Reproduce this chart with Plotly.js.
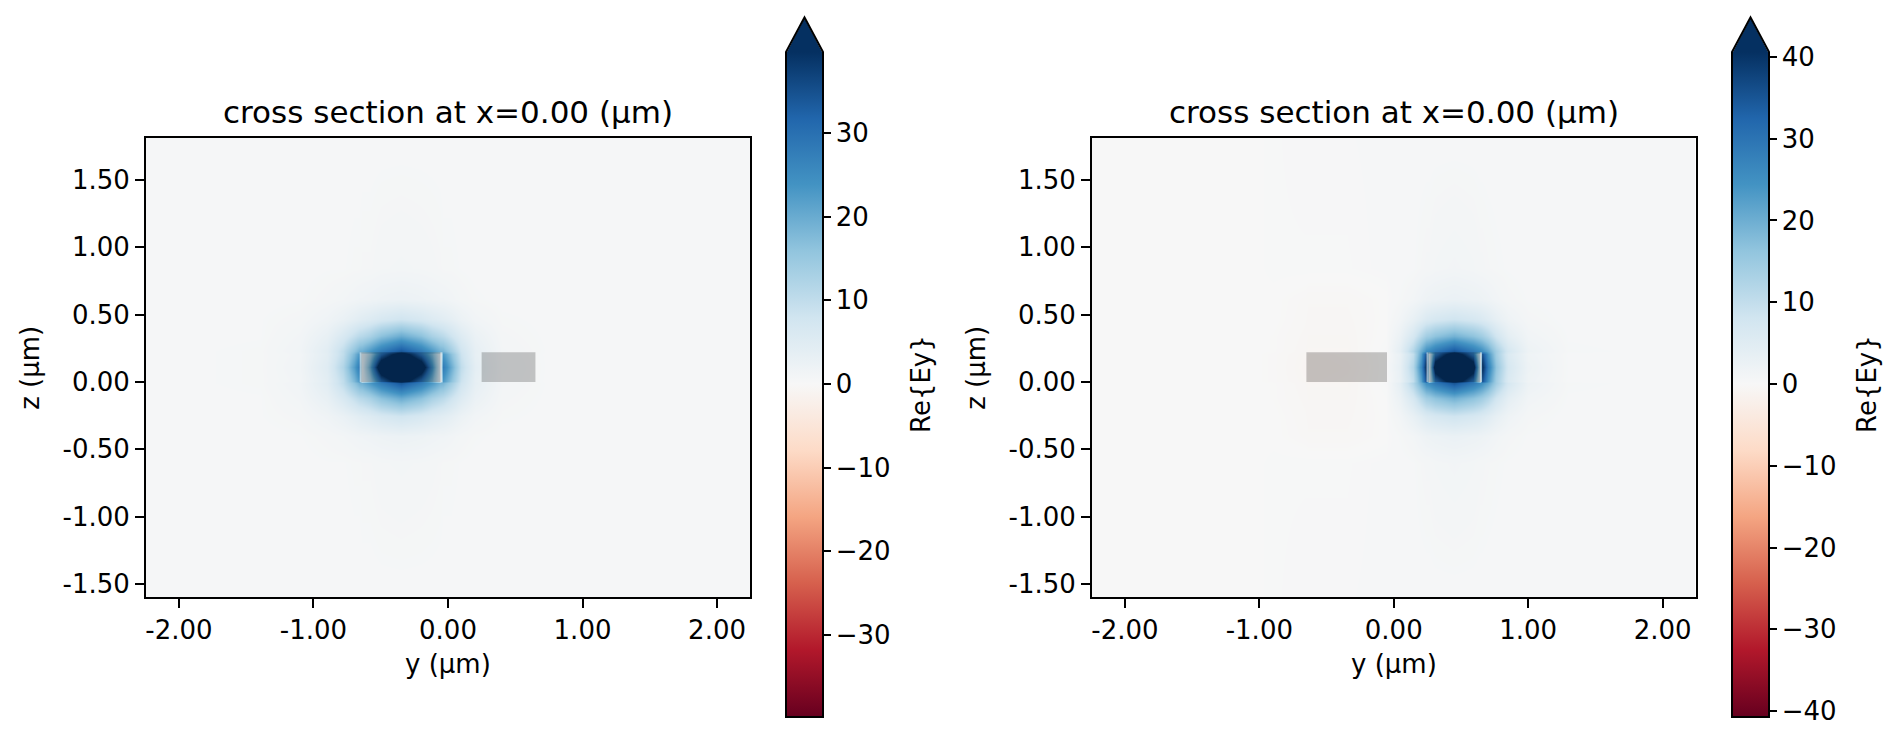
<!DOCTYPE html>
<html>
<head>
<meta charset="utf-8">
<script src="https://cdn.plot.ly/plotly-3.0.1.min.js"></script>
<style>html,body{margin:0;padding:0;background:#ffffff;}</style>
</head>
<body>
<div id="chart" style="width:1900px;height:748px;"></div>
<script>
// ---------------- data ----------------
const panelTitle = 'cross section at x=0.00 (μm)';
const xLabel = 'y (μm)';
const yLabel = 'z (μm)';
const cbLabel = 'Re{Ey}';

const xRange = [-2.245, 2.245];
const zRange = [-1.597, 1.812];
const xTickVals = [-2, -1, 0, 1, 2];
const xTickText = ['-2.00', '-1.00', '0.00', '1.00', '2.00'];
const yTickVals = [-1.5, -1, -0.5, 0, 0.5, 1, 1.5];
const yTickText = ['-1.50', '-1.00', '-0.50', '0.00', '0.50', '1.00', '1.50'];

const colorLimitLeft = 39.7;
const colorLimitRight = 40.6;

// waveguide cross sections (y from/to, z from/to)
const wgY0 = [-0.65, 0.25];
const wgY1 = [-0.05, 0.65];
const wgZ0 = [0.0, 0.0];
const wgZ1 = [0.22, 0.22];
const modeGuide = [0, 1]; // guide carrying the mode in left / right panel

// matplotlib RdBu
const rdbu = [
  [0.0, '#67001f'], [0.1, '#b2182b'], [0.2, '#d6604d'], [0.3, '#f4a582'],
  [0.4, '#fddbc7'], [0.5, '#f7f7f7'], [0.6, '#d1e5f0'], [0.7, '#92c5de'],
  [0.8, '#4393c3'], [0.9, '#2166ac'], [1.0, '#053061']
];

// field grid, left panel (mode on left guide)
const ysLeft = [-2.245, -1.4, -1.1, -0.9, -0.78, -0.7, -0.66, -0.64, -0.58, -0.5, -0.35, -0.2, -0.12, -0.06, -0.04, 0.02, 0.1, 0.2, 0.4, 0.8, 2.245];
const zsLeft = [-1.597, -0.6, -0.4, -0.25, -0.12, -0.01, 0.01, 0.11, 0.21, 0.23, 0.34, 0.47, 0.62, 0.85, 1.812];
const eyLeft = [
  [0.4, 0.4, 0.4, 0.4, 0.4, 0.4, 0.4, 0.4, 0.4, 0.4, 0.4, 0.4, 0.4, 0.4, 0.4, 0.4, 0.4, 0.4, 0.4, 0.4, 0.4],
  [0.4, 0.4, 0.4, 0.5, 0.5, 0.6, 0.6, 0.7, 0.7, 0.9, 1.0, 0.9, 0.8, 0.7, 0.6, 0.6, 0.5, 0.4, 0.4, 0.4, 0.4],
  [0.4, 0.4, 0.5, 0.8, 1.1, 1.4, 1.6, 1.6, 1.8, 2.1, 2.4, 2.1, 1.8, 1.6, 1.6, 1.3, 0.9, 0.6, 0.4, 0.4, 0.4],
  [0.4, 0.5, 0.8, 1.7, 2.8, 3.9, 4.5, 4.8, 5.5, 6.7, 8.0, 6.7, 5.5, 4.8, 4.5, 3.7, 2.4, 1.3, 0.6, 0.4, 0.4],
  [0.4, 0.5, 1.2, 3.2, 6.4, 9.4, 10.9, 11.3, 13.0, 16.5, 20.0, 16.5, 13.0, 11.3, 10.7, 8.3, 5.3, 2.6, 0.8, 0.4, 0.4],
  [0.4, 0.6, 1.5, 4.5, 10.0, 16.0, 19.0, 19.5, 23.0, 28.0, 34.0, 28.0, 23.0, 19.0, 18.5, 14.0, 8.0, 3.5, 1.0, 0.4, 0.4],
  [0.4, 0.6, 1.3, 4.3, 10.0, 18.0, 23.0, 5.0, 14.0, 31.0, 46.0, 30.0, 18.0, 5.0, 23.0, 16.5, 8.5, 3.4, 0.9, 0.4, 0.4],
  [0.4, 0.6, 1.5, 5.0, 12.0, 22.0, 28.0, 6.0, 21.0, 50.0, 62.0, 48.0, 25.0, 6.0, 28.0, 20.0, 10.0, 4.0, 1.0, 0.4, 0.4],
  [0.4, 0.6, 1.3, 4.3, 10.0, 18.0, 23.0, 5.0, 14.0, 31.0, 46.0, 30.0, 18.0, 5.0, 23.0, 16.5, 8.5, 3.4, 0.9, 0.4, 0.4],
  [0.4, 0.6, 1.5, 4.5, 10.0, 16.0, 19.0, 19.5, 23.0, 28.0, 34.0, 28.0, 23.0, 19.0, 18.5, 14.0, 8.0, 3.5, 1.0, 0.4, 0.4],
  [0.4, 0.5, 1.2, 3.2, 6.4, 9.4, 10.9, 11.3, 13.0, 16.5, 20.0, 16.5, 13.0, 11.3, 10.7, 8.3, 5.3, 2.6, 0.8, 0.4, 0.4],
  [0.4, 0.5, 0.8, 1.7, 2.8, 3.9, 4.5, 4.8, 5.5, 6.7, 8.0, 6.7, 5.5, 4.8, 4.5, 3.7, 2.4, 1.3, 0.6, 0.4, 0.4],
  [0.4, 0.4, 0.5, 0.8, 1.1, 1.4, 1.6, 1.6, 1.8, 2.1, 2.4, 2.1, 1.8, 1.6, 1.6, 1.3, 0.9, 0.6, 0.4, 0.4, 0.4],
  [0.4, 0.4, 0.4, 0.5, 0.5, 0.6, 0.6, 0.7, 0.7, 0.9, 1.0, 0.9, 0.8, 0.7, 0.6, 0.6, 0.5, 0.4, 0.4, 0.4, 0.4],
  [0.4, 0.4, 0.4, 0.4, 0.4, 0.4, 0.4, 0.4, 0.4, 0.4, 0.4, 0.4, 0.4, 0.4, 0.4, 0.4, 0.4, 0.4, 0.4, 0.4, 0.4]
];

// field grid, right panel (mode on right guide)
const ysRight = [-2.245, -1.4, -1.05, -0.9, -0.66, -0.64, -0.35, -0.06, -0.04, 0.05, 0.14, 0.2, 0.24, 0.26, 0.31, 0.45, 0.59, 0.64, 0.66, 0.7, 0.76, 0.85, 1.0, 1.3, 2.245];
const zsRight = [-1.597, -0.6, -0.4, -0.25, -0.12, -0.01, 0.01, 0.11, 0.21, 0.23, 0.34, 0.47, 0.62, 0.85, 1.812];
const eyRight = [
  [0.0, 0.0, 0.0, 0.2, 0.3, 0.3, 0.3, 0.4, 0.4, 0.4, 0.4, 0.4, 0.4, 0.4, 0.4, 0.4, 0.4, 0.4, 0.4, 0.4, 0.4, 0.4, 0.4, 0.4, 0.4],
  [0.0, 0.0, 0.0, 0.2, 0.2, 0.2, 0.2, 0.4, 0.4, 0.4, 0.5, 0.7, 0.8, 0.8, 1.0, 1.2, 1.0, 0.8, 0.8, 0.7, 0.6, 0.5, 0.4, 0.4, 0.4],
  [0.0, 0.0, 0.0, 0.0, -0.3, -0.4, -0.4, 0.0, 0.2, 0.6, 1.1, 1.7, 2.1, 2.2, 2.4, 2.8, 2.4, 2.2, 2.1, 1.8, 1.3, 0.8, 0.5, 0.4, 0.4],
  [0.0, 0.0, 0.0, 0.0, -0.4, -0.5, -0.5, 0.0, 0.4, 1.3, 3.2, 4.8, 6.0, 6.3, 7.0, 8.2, 7.0, 6.3, 6.0, 5.0, 3.5, 1.9, 0.8, 0.4, 0.4],
  [0.0, 0.0, 0.0, -0.1, -0.5, -0.6, -0.6, 0.1, 0.6, 2.6, 7.0, 11.5, 14.2, 14.8, 16.6, 19.5, 16.6, 14.8, 14.2, 11.8, 8.0, 4.0, 1.4, 0.5, 0.4],
  [0.0, 0.0, 0.0, -0.1, -0.6, -0.7, -0.7, 0.3, 0.8, 4.0, 12.0, 20.0, 25.0, 26.0, 29.0, 35.0, 29.0, 26.0, 25.0, 21.0, 14.0, 7.0, 2.2, 0.6, 0.4],
  [0.0, 0.0, 0.0, -0.2, -0.7, -1.5, -1.2, -0.2, 0.7, 3.0, 10.0, 22.0, 36.0, 6.5, 30.0, 48.0, 30.0, 6.5, 36.0, 24.0, 14.0, 6.0, 1.8, 0.5, 0.4],
  [0.0, 0.0, 0.0, -0.2, -0.8, -1.8, -1.4, -0.2, 0.8, 3.4, 12.0, 26.0, 42.0, 8.0, 48.0, 68.0, 48.0, 8.0, 42.0, 28.0, 16.0, 7.0, 2.2, 0.5, 0.4],
  [0.0, 0.0, 0.0, -0.2, -0.7, -1.5, -1.2, -0.2, 0.7, 3.0, 10.0, 22.0, 36.0, 6.5, 30.0, 48.0, 30.0, 6.5, 36.0, 24.0, 14.0, 6.0, 1.8, 0.5, 0.4],
  [0.0, 0.0, 0.0, -0.1, -0.6, -0.7, -0.7, 0.3, 0.8, 4.0, 12.0, 20.0, 25.0, 26.0, 29.0, 35.0, 29.0, 26.0, 25.0, 21.0, 14.0, 7.0, 2.2, 0.6, 0.4],
  [0.0, 0.0, 0.0, -0.1, -0.5, -0.6, -0.6, 0.1, 0.6, 2.6, 7.0, 11.5, 14.2, 14.8, 16.6, 19.5, 16.6, 14.8, 14.2, 11.8, 8.0, 4.0, 1.4, 0.5, 0.4],
  [0.0, 0.0, 0.0, 0.0, -0.4, -0.5, -0.5, 0.0, 0.4, 1.3, 3.2, 4.8, 6.0, 6.3, 7.0, 8.2, 7.0, 6.3, 6.0, 5.0, 3.5, 1.9, 0.8, 0.4, 0.4],
  [0.0, 0.0, 0.0, 0.0, -0.3, -0.4, -0.4, 0.0, 0.2, 0.6, 1.1, 1.7, 2.1, 2.2, 2.4, 2.8, 2.4, 2.2, 2.1, 1.8, 1.3, 0.8, 0.5, 0.4, 0.4],
  [0.0, 0.0, 0.0, 0.2, 0.2, 0.2, 0.2, 0.4, 0.4, 0.4, 0.5, 0.7, 0.8, 0.8, 1.0, 1.2, 1.0, 0.8, 0.8, 0.7, 0.6, 0.5, 0.4, 0.4, 0.4],
  [0.0, 0.0, 0.0, 0.2, 0.3, 0.3, 0.3, 0.4, 0.4, 0.4, 0.4, 0.4, 0.4, 0.4, 0.4, 0.4, 0.4, 0.4, 0.4, 0.4, 0.4, 0.4, 0.4, 0.4, 0.4]
];

// ---------------- layout helpers ----------------
const W = 1900, H = 748;
const FONT = 'DejaVu Sans, Liberation Sans, sans-serif';
const px = v => v / W;
const py = v => 1 - v / H;

const plotTop = 138, plotBottom = 597;
const panels = [
  {left: 146, right: 750, cbLeft: 787, cbRight: 822},
  {left: 1092, right: 1695.5, cbLeft: 1733, cbRight: 1768}
];
const cbTop = 52, cbBottom = 716, cbApex = 18.3;

function axisStyle(extra) {
  return Object.assign({
    showline: true, linecolor: '#000', linewidth: 2, mirror: true,
    ticks: 'outside', ticklen: 9, tickwidth: 2, tickcolor: '#000',
    showgrid: false, zeroline: false, fixedrange: true,
    tickfont: {family: FONT, size: 26, color: '#000'},
    tickmode: 'array'
  }, extra);
}

function colorbarStyle(p) {
  return {
    x: px(panels[p].cbLeft), xanchor: 'left', xref: 'paper', xpad: 0,
    y: py(cbBottom), yanchor: 'bottom', yref: 'paper', ypad: 0,
    len: cbBottom - cbTop, lenmode: 'pixels',
    thickness: panels[p].cbRight - panels[p].cbLeft, thicknessmode: 'pixels',
    outlinewidth: 0, borderwidth: 0,
    ticks: 'outside', ticklen: 9, tickwidth: 2, tickcolor: '#000',
    tickmode: 'linear', tick0: 0, dtick: 10,
    tickfont: {family: FONT, size: 26, color: '#000'},
    title: {text: ''}
  };
}

const traces = [
  {
    type: 'heatmap', x: ysLeft, y: zsLeft, z: eyLeft,
    xaxis: 'x', yaxis: 'y',
    colorscale: rdbu, zmin: -colorLimitLeft, zmax: colorLimitLeft, zauto: false,
    zsmooth: 'best', hoverinfo: 'skip',
    colorbar: colorbarStyle(0)
  },
  {
    type: 'heatmap', x: ysRight, y: zsRight, z: eyRight,
    xaxis: 'x2', yaxis: 'y2',
    colorscale: rdbu, zmin: -colorLimitRight, zmax: colorLimitRight, zauto: false,
    zsmooth: 'best', hoverinfo: 'skip',
    colorbar: colorbarStyle(1)
  }
];

const shapes = [];
const annotations = [];
['', '2'].forEach((s, p) => {
  const xr = 'x' + s, yr = 'y' + s;
  // waveguide overlays
  for (let i = 0; i < wgY0.length; i++) {
    shapes.push({type: 'rect', xref: xr, yref: yr, x0: wgY0[i], x1: wgY1[i], y0: wgZ0[i], y1: wgZ1[i],
      fillcolor: 'rgba(0,0,0,0.21)', line: {width: 0}, layer: 'above'});
  }
  const g = modeGuide[p];
  [wgY0[g], wgY1[g]].forEach(xv => {
    shapes.push({type: 'line', xref: xr, yref: yr, x0: xv, x1: xv, y0: wgZ0[g], y1: wgZ1[g],
      line: {color: 'rgba(255,255,255,0.45)', width: 2}, layer: 'above'});
  });
  // colorbar extension triangle + outline
  const P = panels[p];
  const bl = P.cbLeft, br = P.cbRight, mid = (bl + br) / 2;
  shapes.push({type: 'path', xref: 'paper', yref: 'paper', layer: 'above',
    path: `M ${px(bl)},${py(cbTop + 1)} L ${px(bl)},${py(cbTop)} L ${px(mid)},${py(cbApex)} L ${px(br)},${py(cbTop)} L ${px(br)},${py(cbTop + 1)} Z`,
    fillcolor: '#053061', line: {width: 0}});
  shapes.push({type: 'path', xref: 'paper', yref: 'paper', layer: 'above',
    path: `M ${px(bl - 1)},${py(cbBottom + 1)} L ${px(bl - 1)},${py(cbTop)} L ${px(mid)},${py(cbApex - 1)} L ${px(br + 1)},${py(cbTop)} L ${px(br + 1)},${py(cbBottom + 1)} Z`,
    fillcolor: 'rgba(0,0,0,0)', line: {color: '#000', width: 2}});

  const cx = (P.left + P.right) / 2;
  annotations.push({text: panelTitle, xref: 'paper', yref: 'paper', x: px(cx), y: py(112),
    xanchor: 'center', yanchor: 'middle', showarrow: false,
    font: {family: FONT, size: 31, color: '#000'}});
  annotations.push({text: xLabel, xref: 'paper', yref: 'paper', x: px(cx), y: py(664),
    xanchor: 'center', yanchor: 'middle', showarrow: false,
    font: {family: FONT, size: 26, color: '#000'}});
  annotations.push({text: yLabel, xref: 'paper', yref: 'paper', x: px(P.left - 116.7), y: py((plotTop + plotBottom) / 2),
    xanchor: 'center', yanchor: 'middle', showarrow: false, textangle: -90,
    font: {family: FONT, size: 26, color: '#000'}});
  annotations.push({text: cbLabel, xref: 'paper', yref: 'paper', x: px(P.cbRight + 99), y: py((cbTop + cbBottom) / 2),
    xanchor: 'center', yanchor: 'middle', showarrow: false, textangle: -90,
    font: {family: FONT, size: 26, color: '#000'}});
});

const layout = {
  width: W, height: H, autosize: false,
  margin: {l: 0, r: 0, t: 0, b: 0, pad: 0},
  paper_bgcolor: '#ffffff', plot_bgcolor: '#ffffff',
  font: {family: FONT, color: '#000'},
  showlegend: false,
  xaxis: axisStyle({domain: [px(panels[0].left), px(panels[0].right)], anchor: 'y', range: xRange, tickvals: xTickVals, ticktext: xTickText}),
  yaxis: axisStyle({domain: [py(plotBottom), py(plotTop)], anchor: 'x', range: zRange, tickvals: yTickVals, ticktext: yTickText}),
  xaxis2: axisStyle({domain: [px(panels[1].left), px(panels[1].right)], anchor: 'y2', range: xRange, tickvals: xTickVals, ticktext: xTickText}),
  yaxis2: axisStyle({domain: [py(plotBottom), py(plotTop)], anchor: 'x2', range: zRange, tickvals: yTickVals, ticktext: yTickText}),
  shapes: shapes,
  annotations: annotations
};

Plotly.newPlot('chart', traces, layout, {staticPlot: true, displayModeBar: false});
</script>
</body>
</html>
